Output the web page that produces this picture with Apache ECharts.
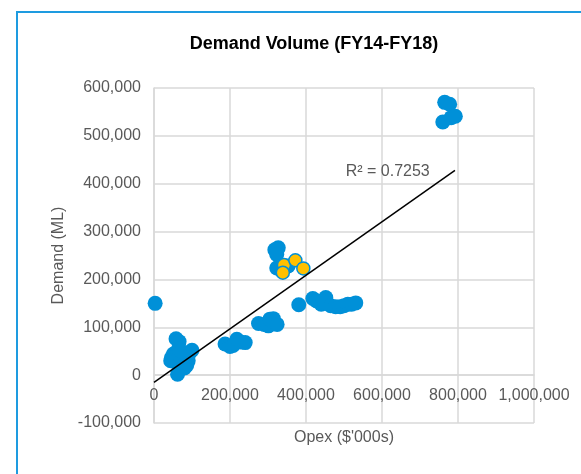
<!DOCTYPE html>
<html>
<head>
<meta charset="utf-8">
<script src="https://cdn.jsdelivr.net/npm/echarts@6/dist/echarts.min.js"></script>
<style>
  html, body { margin: 0; padding: 0; background: #fff; }
  #chart { width: 581px; height: 474px; }
</style>
</head>
<body>
<div id="chart"></div>
<script>
// Opex ($'000s) vs Demand (ML)
const bluePoints = [
  [3000, 150000],
  [58000, 76000], [66000, 70000], [64000, 54000], [51000, 44000], [46000, 36000],
  [44000, 30000], [55000, 28000], [68000, 40000], [78000, 42000], [90000, 30000],
  [86000, 20000], [80000, 15000], [95000, 48000], [100000, 52000], [62000, 2000],
  [72000, 50000],
  [187000, 65000], [200000, 60000], [208000, 62000], [218000, 75000], [228000, 69000],
  [240000, 68000],
  [275000, 108000], [290000, 106000], [301000, 103000], [305000, 117000], [314000, 118000],
  [324000, 106000],
  [318000, 262000], [327000, 266000], [323000, 252000], [323000, 224000], [332000, 221000],
  [353000, 228000],
  [381000, 147000],
  [418000, 160000], [428000, 155000], [440000, 148000], [452000, 162000], [455000, 150000],
  [465000, 145000], [478000, 143000], [490000, 143000], [500000, 145000], [510000, 148000],
  [520000, 148000], [531000, 151000],
  [765000, 570000], [778000, 566000], [760000, 529000], [782000, 538000], [793000, 541000]
];
const yellowPoints = [
  [342000, 230000], [339000, 214000], [372000, 240000], [393000, 223000]
];
// linear trendline end points
const trendLine = [[0, -15000], [792000, 428000]];
const rSquaredText = 'R² = 0.7253';
const rSquaredAt = [615000, 425000];

const xTicks = { min: 0, max: 1000000, interval: 200000 };
const yTicks = { min: -100000, max: 600000, interval: 100000 };

const fmt = v => v.toLocaleString('en-US');
const labelColor = '#595959';
const gridColor = '#d9d9d9';
const font = 'Liberation Sans, Arial, sans-serif';

// plot box; the x axis sits on the y = 0 line like in Excel
const plotTop = 88, plotBottom = 51, plotHeight = 474 - plotTop - plotBottom;
const zeroOffset = -plotHeight * (0 - yTicks.min) / (yTicks.max - yTicks.min);

const chart = echarts.init(document.getElementById('chart'));
chart.setOption({
  backgroundColor: '#fff',
  animation: false,
  title: {
    text: 'Demand Volume (FY14-FY18)',
    left: 309,
    top: 30,
    textAlign: 'center',
    textStyle: { fontFamily: font, fontSize: 18, fontWeight: 'bold', color: '#000' }
  },
  graphic: [{
    type: 'rect',
    shape: { x: 17, y: 12, width: 620, height: 520 },
    style: { fill: 'none', stroke: '#1e9be0', lineWidth: 2 },
    silent: true
  }],
  grid: { left: 154, right: 47, top: plotTop, bottom: plotBottom, containLabel: false, outerBoundsMode: 'none' },
  xAxis: {
    type: 'value',
    min: xTicks.min,
    max: xTicks.max,
    interval: xTicks.interval,
    offset: zeroOffset,
    name: "Opex ($'000s)",
    nameLocation: 'middle',
    nameGap: 54,
    nameTextStyle: { fontFamily: font, fontSize: 16, color: labelColor },
    axisLine: { onZero: false, lineStyle: { color: gridColor, width: 1.5 } },
    axisTick: { show: false },
    axisLabel: { fontFamily: font, fontSize: 16, color: labelColor, margin: 12, formatter: fmt },
    splitLine: { lineStyle: { color: gridColor, width: 1.5 } }
  },
  yAxis: {
    type: 'value',
    min: yTicks.min,
    max: yTicks.max,
    interval: yTicks.interval,
    name: 'Demand (ML)',
    nameLocation: 'middle',
    nameGap: 77,
    nameTextStyle: { fontFamily: font, fontSize: 16, color: labelColor },
    axisLine: { show: true, onZero: false, lineStyle: { color: gridColor, width: 1.5 } },
    axisTick: { show: false },
    axisLabel: { fontFamily: font, fontSize: 16, color: labelColor, margin: 13, formatter: fmt },
    splitLine: { lineStyle: { color: gridColor, width: 1.5 } }
  },
  series: [
    {
      type: 'scatter',
      data: bluePoints,
      symbolSize: 15,
      itemStyle: { color: '#0090d8', opacity: 1 }
    },
    {
      type: 'scatter',
      data: yellowPoints,
      symbolSize: 13,
      itemStyle: { color: '#ffc000', borderColor: '#0090d8', borderWidth: 1.5, opacity: 1 }
    },
    {
      type: 'line',
      data: trendLine,
      symbol: 'none',
      lineStyle: { color: '#000', width: 1.5 },
      z: 5,
      markPoint: {
        symbol: 'circle',
        symbolSize: 0,
        data: [{ coord: rSquaredAt }],
        label: {
          show: true,
          formatter: rSquaredText,
          fontFamily: font,
          fontSize: 16,
          color: labelColor
        }
      }
    }
  ]
});
</script>
</body>
</html>
